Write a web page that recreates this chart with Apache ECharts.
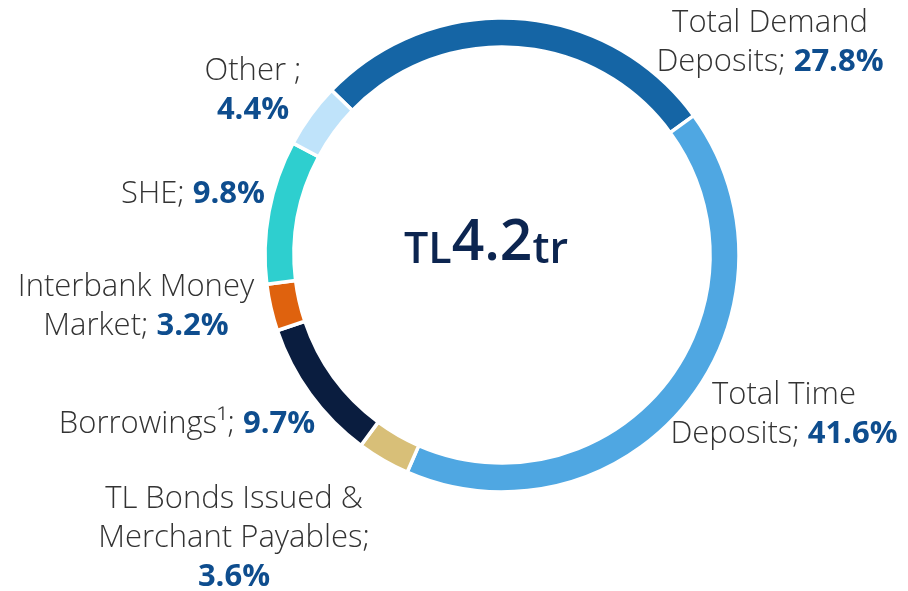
<!DOCTYPE html>
<html>
<head>
<meta charset="utf-8">
<script src="https://cdn.jsdelivr.net/npm/echarts@6/dist/echarts.min.js"></script>
<style>
  html, body { margin: 0; padding: 0; background: #fff; }
  #chart { width: 908px; height: 591px; }
</style>
</head>
<body>
<div id="chart"></div>
<script>
const names = [
  "Total Demand\nDeposits; ",
  "Total Time\nDeposits; ",
  "TL Bonds Issued &\nMerchant Payables;\n",
  "Borrowings\u00b9; ",
  "Interbank Money\nMarket; ",
  "SHE; ",
  "Other ;\n"
];
const values = [27.8, 41.6, 3.6, 9.7, 3.2, 9.8, 4.4];
const colors = ["#1565a5", "#4fa7e2", "#d8bf78", "#0a1d3f", "#df620e", "#2ecfcf", "#bfe3fa"];
// label anchor points (text centre)
const labelPos = [
  [770, 43], [784, 415], [234, 538], [187, 424], [136, 307], [193, 194], [253, 91]
];

const myEcharts = echarts.init(document.getElementById("chart"));
const rederChart = () => {
  const option = {
    animation: false,
    graphic: [
      {
        type: "text",
        left: 404,
        top: 215,
        style: {
          rich: {
            s: { fontFamily: "Open Sans", fontSize: 43, fontWeight: 600, fill: "#0c2550", verticalAlign: "bottom" },
            b: { fontFamily: "Open Sans", fontSize: 57, fontWeight: 600, fill: "#0c2550", verticalAlign: "bottom" }
          },
          text: "{s|TL}{b|4.2}{s|tr}"
        }
      }
    ],
    series: [
      {
        type: "pie",
        center: [502, 255],
        radius: [208, 237],
        startAngle: 136,
        clockwise: true,
        avoidLabelOverlap: false,
        itemStyle: { borderColor: "#fff", borderWidth: 3.5 },
        data: values.map((v, i) => ({
          name: names[i],
          value: v,
          itemStyle: { color: colors[i] }
        })),
        labelLine: { show: false },
        label: {
          show: true,
          position: "outside",
          lineHeight: 39,
          align: "center",
          formatter: (p) => {
            const lines = p.name.split("\n");
            const last = lines.pop();
            const head = lines.map((l) => "{n|" + l + "}").join("\n");
            const tail = (last ? "{n|" + last + "}" : "") + "{v|" + p.value.toFixed(1) + "%}";
            return (head ? head + "\n" : "") + tail;
          },
          rich: {
            n: { fontFamily: "Open Sans", fontWeight: 300, fontSize: 31, color: "#333", lineHeight: 39 },
            v: { fontFamily: "Open Sans", fontWeight: 700, fontSize: 31, color: "#0e4d8e", lineHeight: 39 }
          }
        },
        labelLayout: (params) => ({
          x: labelPos[params.dataIndex][0],
          y: labelPos[params.dataIndex][1],
          align: "center",
          verticalAlign: "middle"
        })
      }
    ]
  };
  myEcharts.setOption(option);
};
rederChart();
</script>
</body>
</html>
